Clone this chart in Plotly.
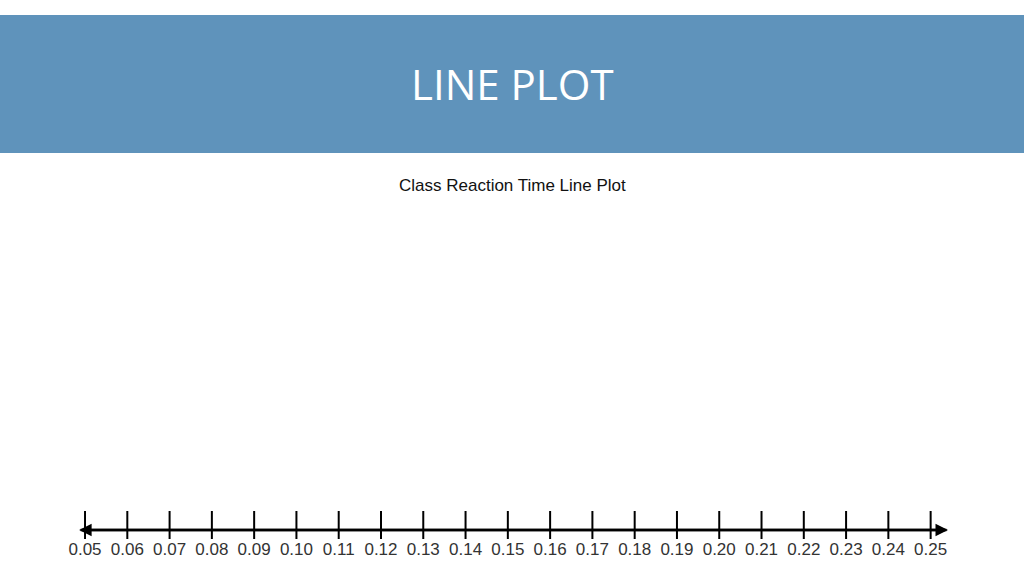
import plotly.graph_objects as go

# number line values (reaction time in seconds)
tick_values = [0.05, 0.06, 0.07, 0.08, 0.09, 0.10, 0.11, 0.12, 0.13, 0.14, 0.15,
               0.16, 0.17, 0.18, 0.19, 0.20, 0.21, 0.22, 0.23, 0.24, 0.25]
tick_labels = ["%.2f" % v for v in tick_values]
line_start = 0.0486
line_end = 0.2541

slide_title = "LINE PLOT"
chart_title = "Class Reaction Time Line Plot"

fig = go.Figure()

# tick marks crossing the line
fig.add_trace(go.Scatter(
    x=tick_values,
    y=[525] * len(tick_values),
    mode="markers",
    marker=dict(symbol="line-ns", size=20, line=dict(width=2, color="black")),
    hoverinfo="x",
    showlegend=False,
))

# tick labels under the line
fig.add_trace(go.Scatter(
    x=tick_values,
    y=[551] * len(tick_values),
    mode="text",
    text=tick_labels,
    textfont=dict(family="Liberation Sans, Arial", size=17, color="#333333"),
    hoverinfo="skip",
    showlegend=False,
))

# the line itself, arrow on both ends (two full-length arrows laid over each other)
for tip, tail in ((line_start, line_end), (line_end, line_start)):
    fig.add_annotation(
        x=tip, y=530, ax=tail, ay=530,
        xref="x", yref="y", axref="x", ayref="y",
        text="", showarrow=True,
        arrowhead=2, arrowsize=1, arrowwidth=2.5, arrowcolor="black",
    )

# blue header band
fig.add_shape(type="rect", xref="paper", yref="y", x0=0, x1=1, y0=15, y1=153,
              fillcolor="#5f93bb", line=dict(width=0), layer="below")

fig.add_annotation(
    x=0.5, y=83, xref="paper", yref="y", text=slide_title, showarrow=False,
    font=dict(family="Open Sans", size=42, color="white"),
)
fig.add_annotation(
    x=0.5, y=185, xref="paper", yref="y", text=chart_title, showarrow=False,
    font=dict(family="Liberation Sans, Arial", size=17, color="#111111"),
)

fig.update_layout(
    width=1024,
    height=576,
    margin=dict(l=0, r=0, t=0, b=0),
    plot_bgcolor="white",
    paper_bgcolor="white",
    xaxis=dict(range=[0.02989, 0.27208], visible=False, fixedrange=True),
    yaxis=dict(range=[576, 0], visible=False, fixedrange=True),
)

# page has a default body margin, drop it so the slide fills the window
fig.write_html("out.html", config={"displayModeBar": False},
               post_script="document.body.style.margin='0';")
